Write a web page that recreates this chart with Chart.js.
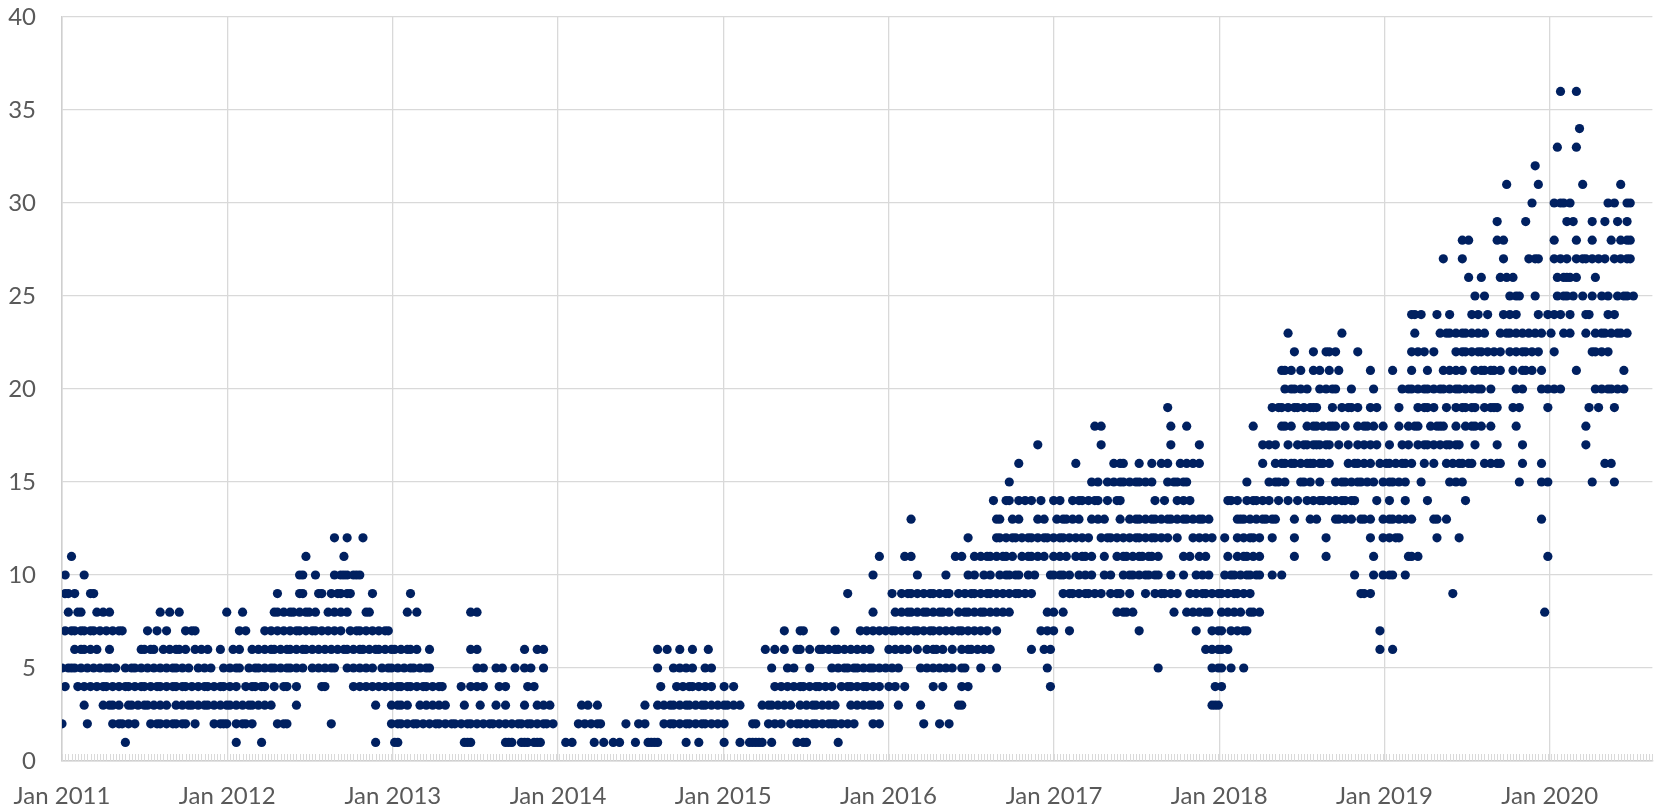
<!DOCTYPE html>
<html>
<head>
<meta charset="utf-8">
<title>Scatter 2011-2020</title>
<script src="https://cdn.jsdelivr.net/npm/chart.js@4"></script>
<style>
  html, body { margin: 0; padding: 0; background: #fff; }
  #box { width: 1657px; height: 811px; }
</style>
</head>
<body>
<div id="box"><canvas id="chart"></canvas></div>
<script>
// x = weeks since the first week of Jan 2011, one list per y value
const yearLabels = ["Jan 2011", "Jan 2012", "Jan 2013", "Jan 2014", "Jan 2015", "Jan 2016", "Jan 2017", "Jan 2018", "Jan 2019", "Jan 2020"];
const yTicks = [0, 5, 10, 15, 20, 25, 30, 35, 40];
const lastWeek = 502;

const level1 = [20,55,63,99,105,106,127,128,129,140,141,142,145,146,147,149,150,151,159,161,168,171,174,176,181,185,186,187,188,197,201,209,214,217,218,219,220,221,224,232,234,235,245];
const level2 = [0,8,16,18,19,21,23,28,30,31,33,35,36,38,39,42,48,50,51,52,55,57,58,60,68,70,71,85,104,106,107,109,111,112,114,116,118,119,121,123,124,126,128,129,131,133,135,136,138,140,142,144,145,147,148,150,152,153,155,163,165,167,169,170,178,182,184,190,192,193,195,197,198,200,202,203,205,207,209,218,219,223,225,227,230,232,233,235,237,238,240,242,243,244,246,248,250,256,258,272,277,280];
const level3 = [7,13,15,16,18,21,22,24,26,27,29,31,33,36,38,40,41,43,45,46,48,50,52,53,55,57,59,60,62,64,66,74,99,104,106,107,109,113,115,117,119,121,127,132,137,140,146,150,152,154,164,166,169,184,188,190,192,193,195,197,198,200,202,203,205,207,209,210,212,214,221,223,224,226,228,230,233,235,237,238,240,242,244,249,251,253,255,256,258,264,271,283,284,363,364,365];
const level4 = [1,5,7,9,11,13,14,16,18,20,21,23,25,26,28,30,31,33,35,36,38,39,41,43,45,46,48,50,51,53,55,58,60,61,63,64,67,70,71,74,82,83,92,94,96,98,100,102,104,106,107,109,110,112,114,115,117,119,120,126,129,131,133,138,140,147,149,189,194,196,198,199,201,203,205,209,212,225,227,229,231,233,234,236,238,239,241,243,246,248,249,251,253,254,256,258,261,263,266,275,278,284,286,312,364,366];
const level5 = [0,2,3,4,6,8,10,12,14,15,17,20,22,23,25,27,29,31,33,35,36,38,40,43,45,47,51,53,55,56,59,61,62,64,66,67,69,71,72,74,76,79,81,83,85,86,90,92,94,96,98,101,103,104,106,108,110,111,113,115,116,131,133,137,139,143,146,148,152,188,193,195,197,199,203,205,224,229,231,236,243,245,247,248,250,251,253,255,256,258,260,262,264,271,273,275,277,279,281,284,285,290,295,311,346,363,365,366,369,373];
const level6 = [4,6,7,9,11,15,25,26,28,29,32,34,36,37,39,42,44,46,50,54,56,60,62,64,66,67,69,71,72,74,76,77,79,81,83,85,87,89,90,92,94,95,97,99,100,102,104,105,107,109,110,112,116,129,131,146,150,152,188,191,195,199,204,222,225,228,232,233,236,239,240,242,244,245,247,249,251,253,255,261,263,265,267,270,273,275,276,278,281,284,286,287,289,291,293,306,310,312,361,363,365,366,368,416,420];
const level7 = [1,3,4,6,7,9,10,12,14,16,18,19,27,30,33,39,41,42,56,58,64,66,68,70,72,74,75,77,79,80,82,84,86,88,91,93,94,96,98,100,102,103,228,233,234,244,252,254,256,258,260,262,263,265,267,269,270,272,274,275,277,279,281,283,284,286,288,290,292,295,309,311,313,318,340,358,363,365,366,369,371,373,374,416];
const level8 = [2,5,6,11,13,15,31,34,37,52,57,67,68,70,72,73,75,77,78,80,84,86,88,90,96,97,109,112,129,131,256,263,265,267,268,270,272,273,275,277,278,280,283,285,286,288,290,291,293,295,297,299,311,313,316,333,335,336,338,351,355,357,359,361,362,366,368,370,372,375,376,378,468];
const level9 = [1,2,4,9,10,68,75,76,81,82,85,87,88,90,91,98,110,248,262,265,267,268,270,272,274,275,277,279,280,283,285,287,288,290,292,293,295,297,299,301,302,304,306,316,318,319,321,323,324,326,328,331,333,334,337,342,345,347,348,350,352,356,358,360,361,363,365,366,368,370,371,373,375,410,411,413,439];
const level10 = [1,7,75,76,80,86,88,89,90,92,93,94,256,270,279,286,288,291,293,296,298,299,301,302,305,307,312,313,315,316,318,321,323,325,329,331,335,337,338,340,342,343,345,346,350,354,358,360,362,367,369,370,372,374,375,377,378,382,385,408,414,417,419,420,424];
const level11 = [3,77,89,258,266,268,282,284,288,290,292,293,295,297,298,300,303,305,306,308,310,313,315,317,320,322,323,325,329,333,335,336,338,340,341,343,344,346,354,356,359,361,368,371,373,374,376,378,389,399,414,425,426,428,469];
const level12 = [86,90,95,286,295,296,298,300,301,303,305,306,308,310,311,313,315,316,318,320,322,324,328,330,331,333,335,337,339,340,342,344,345,347,349,352,357,359,361,363,367,371,373,375,376,378,382,389,399,413,417,419,421,422,434,441];
const level13 = [268,295,296,300,302,308,310,314,316,317,319,321,325,327,329,334,337,339,340,342,344,345,347,349,350,352,354,355,357,359,360,362,371,372,373,375,377,379,380,382,383,389,394,396,402,403,405,407,410,411,413,417,419,420,422,424,426,433,434,437,467];
const level14 = [294,298,299,302,304,306,309,313,315,319,321,322,324,326,327,330,333,334,345,348,352,354,356,368,369,371,374,376,377,379,381,384,387,390,393,395,397,398,400,402,404,405,407,408,415,419,424,431,443];
const level15 = [299,325,327,330,332,334,335,337,339,340,342,344,349,351,352,354,355,374,381,383,384,386,391,392,394,397,402,404,405,407,409,410,412,414,417,419,420,422,424,429,438,440,442,460,467,469,483,490];
const level16 = [302,320,332,334,335,340,344,347,349,353,355,357,359,379,383,385,386,388,389,391,393,394,395,397,398,400,406,408,409,411,413,416,418,419,421,423,424,426,430,433,437,439,441,442,444,445,449,451,453,454,461,467,487,489];
const level17 = [308,328,350,359,379,381,383,387,390,392,393,395,396,397,399,400,403,406,409,411,413,415,419,423,425,428,430,431,433,435,437,438,440,441,446,453,461,481];
const level18 = [326,328,350,355,376,385,386,388,393,395,396,398,400,401,402,405,409,411,412,414,417,422,425,427,428,432,434,435,436,440,443,445,446,448,451,459,481];
const level19 = [349,382,384,385,387,389,390,392,394,395,396,401,404,406,407,409,413,415,422,428,430,431,433,437,440,442,443,445,446,449,451,452,453,458,460,469,482,485,490];
const level20 = [386,388,389,391,393,397,399,401,402,407,414,423,425,426,428,430,431,433,435,436,438,440,441,443,445,447,448,451,459,461,467,469,471,473,484,486,488,489,491,493];
const level21 = [385,386,388,391,395,397,400,403,413,420,426,431,436,438,440,442,446,448,449,451,452,454,458,461,462,464,467,478,493];
const level22 = [389,395,399,400,402,409,426,428,430,433,440,442,443,445,447,448,450,452,454,457,459,461,462,464,466,471,483,484,486,488];
const level23 = [387,404,427,435,437,438,440,442,443,445,447,449,454,456,457,459,461,463,465,467,470,474,476,481,484,486,487,489,491,492,494];
const level24 = [426,427,429,434,438,445,447,450,455,457,459,466,469,471,473,476,481,482,488,490];
const level25 = [446,449,457,459,460,465,472,474,475,477,480,483,486,488,491,493,494,496];
const level26 = [444,448,454,456,458,472,474,475,476,478,484];
const level27 = [436,442,455,463,465,466,471,473,475,478,480,481,483,485,487,490,492,494,495];
const level28 = [442,444,453,455,471,478,483,489,492,494,495];
const level29 = [453,462,475,477,483,487,491,494];
const level30 = [464,471,473,474,476,488,490,494,495];
const level31 = [456,466,480,492];
const level32 = [465];
const level33 = [472,478];
const level34 = [479];
const level36 = [473,478];

const levels = [
  [1, level1], [2, level2], [3, level3], [4, level4], [5, level5], [6, level6],
  [7, level7], [8, level8], [9, level9], [10, level10], [11, level11], [12, level12],
  [13, level13], [14, level14], [15, level15], [16, level16], [17, level17], [18, level18],
  [19, level19], [20, level20], [21, level21], [22, level22], [23, level23], [24, level24],
  [25, level25], [26, level26], [27, level27], [28, level28], [29, level29], [30, level30],
  [31, level31], [32, level32], [33, level33], [34, level34], [36, level36],
];

const points = [];
levels.forEach(([value, weeks]) => {
  weeks.forEach((week) => points.push({ x: week, y: value }));
});

// week number of each January label
const start = Date.UTC(2011, 0, 1);
const yearWeeks = yearLabels.map((label) => {
  const year = Number(label.split(" ")[1]);
  return (Date.UTC(year, 0, 1) - start) / (7 * 24 * 3600 * 1000);
});

const gridColor = "#d9d9d9";
const axisColor = "#cfcfcf";
const labelFont = { family: "Lato", size: 24 };

// small weekly tick marks that sit above the date axis
const weeklyTicks = {
  id: "weeklyTicks",
  beforeDatasetsDraw(chart) {
    const { ctx, scales, chartArea } = chart;
    ctx.save();
    ctx.strokeStyle = gridColor;
    ctx.lineWidth = 1;
    for (let w = 0; w <= lastWeek; w++) {
      const px = Math.round(scales.x.getPixelForValue(w)) + 0.5;
      ctx.beginPath();
      ctx.moveTo(px, chartArea.bottom);
      ctx.lineTo(px, chartArea.bottom - 7);
      ctx.stroke();
    }
    ctx.restore();
  },
};

new Chart(document.getElementById("chart"), {
  type: "scatter",
  data: {
    datasets: [{
      data: points,
      backgroundColor: "#002060",
      borderColor: "#002060",
      pointRadius: 4.6,
      pointBorderWidth: 0,
      showLine: false,
    }],
  },
  options: {
    responsive: true,
    maintainAspectRatio: false,
    animation: false,
    layout: { padding: { top: 17, right: -4, left: 0, bottom: 0 } },
    plugins: { legend: { display: false }, tooltip: { enabled: false } },
    scales: {
      x: {
        type: "linear",
        min: 0,
        max: lastWeek,
        afterBuildTicks: (scale) => {
          scale.ticks = yearWeeks.map((value) => ({ value }));
        },
        afterFit: (scale) => {
          scale.height = 50;
          scale.paddingLeft = 0;
          scale.paddingRight = 0;
        },
        grid: { color: gridColor, lineWidth: 1.3, drawTicks: false },
        border: { color: axisColor, width: 1.5 },
        ticks: {
          autoSkip: false,
          maxRotation: 0,
          padding: 21,
          color: "#595959",
          font: labelFont,
          callback: (value, index) => yearLabels[index],
        },
      },
      y: {
        min: 0,
        max: 40,
        afterBuildTicks: (scale) => {
          scale.ticks = yTicks.map((value) => ({ value }));
        },
        afterFit: (scale) => {
          scale.width = 62;
          scale.paddingTop = 0;
          scale.paddingBottom = 0;
        },
        grid: { color: gridColor, lineWidth: 1.3, drawTicks: false },
        border: { color: axisColor, width: 1.5 },
        ticks: {
          padding: 26,
          color: "#595959",
          font: labelFont,
        },
      },
    },
  },
  plugins: [weeklyTicks],
});
</script>
</body>
</html>
